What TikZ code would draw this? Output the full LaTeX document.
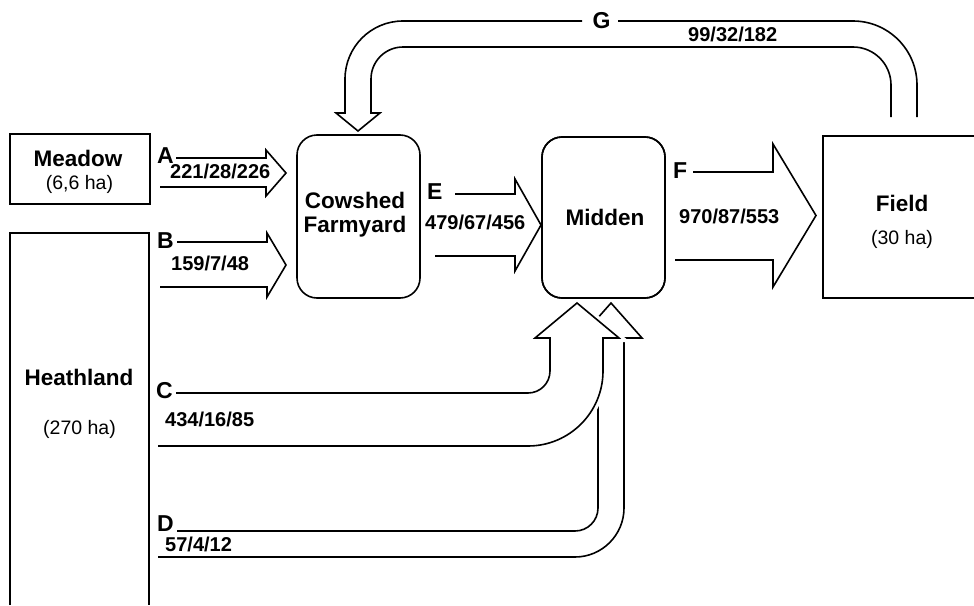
\documentclass[tikz,border=0pt]{standalone}
\usepackage{fontspec}
\setmainfont{Liberation Sans}
\begin{document}
\begin{tikzpicture}[x=1pt,y=-1pt,
  flow/.style={line width=1.6pt, line join=miter},
  halo/.style={line width=8pt, white},
  box/.style={draw, line width=1.6pt, inner sep=0pt},
  boxname/.style={font=\bfseries\fontsize{22.5}{24}\selectfont, inner sep=0pt, anchor=base},
  areatext/.style={font=\fontsize{19.5}{21}\selectfont, inner sep=0pt, anchor=base},
  flowletter/.style={font=\bfseries\fontsize{23}{24}\selectfont, inner sep=0pt, anchor=base west},
  flowvalue/.style={font=\bfseries\fontsize{20}{22}\selectfont, inner sep=0pt, anchor=base west}]

\useasboundingbox (0,0) rectangle (974,605);
\fill[white] (0,0) rectangle (974,605);

% ---- land units and farm stores ----
\node[box, minimum width=140pt, minimum height=70pt] (meadow) at (80,169) {};
\node[box, rounded corners=20pt, minimum width=123pt, minimum height=163pt] (cow) at (358.5,216.5) {};
\node[box, rounded corners=20pt, minimum width=123pt, minimum height=161pt] (midden) at (603.5,217.5) {};
\coordinate (heathNW) at (10,233);
\coordinate (heathNE) at (149,233);
\coordinate (fieldNW) at (823,136);
\coordinate (fieldSW) at (823,298);
\draw[line width=1.6pt] (heathNW |- 0,605) -- (heathNW) -- (heathNE) -- (heathNE |- 0,605);
\draw[line width=1.6pt] (974,136) -- (fieldNW) -- (fieldSW) -- (974,298);

% ---- flows A, B into the cowshed ----
\draw[flow] (176,158) -- (266,158) -- (266,150) -- (286,173) -- (266,196) -- (266,187) -- (160,187);
\draw[flow] (177,242) -- (267,242) -- (267,233) -- (286,265) -- (267,297) -- (267,287) -- (160,287);

% ---- flow E (cowshed to midden) and F (midden to field) ----
\draw[flow] (455,194) -- (515,194) -- (515,179) -- (541,225) -- (515,271) -- (515,256) -- (435,256);
\draw[flow] (693,172) -- (773,172) -- (773,144) -- (816,215.5) -- (773,287) -- (773,260) -- (675,260);

% ---- flow G (field back to the cowshed) ----
\draw[flow] (917,117) -- (917,85) .. controls (917,49.7) and (888.3,21) .. (853,21) -- (618,21);
\draw[flow] (582,21) -- (403,21) .. controls (371,21) and (345,47) .. (345,79) -- (345,113)
  -- (336,113) -- (358,131) -- (380,113) -- (371,113) -- (371,79)
  .. controls (371,61.3) and (385.3,47) .. (403,47) -- (853,47)
  .. controls (874,47) and (891,64) .. (891,85) -- (891,117);

% ---- flow D (heathland to midden), behind C ----
\def\pathD{(177,531) -- (575,531) .. controls (587.7,531) and (598,520.7) .. (598,508) -- (598,338)
  -- (580,338) -- (611,303) -- (642,338) -- (624,338) -- (624,508)
  .. controls (624,535) and (602,557) .. (575,557) -- (158,557)}
\draw[flow, fill=white] \pathD;

% ---- flow C (heathland to midden) ----
\def\pathC{(176,393) -- (528,393) .. controls (540.2,393) and (550,383.2) .. (550,371) -- (550,338)
  -- (535,338) -- (577,303) -- (619,338) -- (603,338) -- (603,371)
  .. controls (603,412.4) and (569.4,446) .. (528,446) -- (158,446)}
\draw[halo] (550,400) -- (550,338) -- (535,338) -- (577,303) -- (619,338) -- (603,338) -- (603,371)
  .. controls (603,412.4) and (569.4,446) .. (528,446);
\draw[flow, fill=white] \pathC;

% redraw the midden outline over the arrow heads
\node[box, rounded corners=20pt, minimum width=123pt, minimum height=161pt] at (midden) {};

% ---- box texts ----
\node[boxname] (tMeadow) at (78,166) {Meadow};
\node[areatext] (aMeadow) at (79.5,189) {(6,6 ha)};
\node[boxname] (tHeath) at (79,385) {Heathland};
\node[areatext] (aHeath) at (79.5,434) {(270 ha)};
\node[boxname, anchor=north, align=center] (tCow) at (355,191.6) {Cowshed\\Farmyard};
\node[boxname] (tMidden) at (605,225) {Midden};
\node[boxname] (tField) at (902,211) {Field};
\node[areatext] (aField) at (902,244) {(30 ha)};

% ---- flow letters and values ----
\node[flowletter] (lA) at (157,163) {A};
\node[flowvalue]  (vA) at (170,178) {221/28/226};
\node[flowletter] (lB) at (157,248) {B};
\node[flowvalue]  (vB) at (171,270) {159/7/48};
\node[flowletter] (lC) at (156,398) {C};
\node[flowvalue]  (vC) at (165,426) {434/16/85};
\node[flowletter] (lD) at (157,531) {D};
\node[flowvalue]  (vD) at (165,551) {57/4/12};
\node[flowletter] (lE) at (427,199) {E};
\node[flowvalue]  (vE) at (425,229) {479/67/456};
\node[flowletter] (lF) at (673,178) {F};
\node[flowvalue]  (vF) at (679,223) {970/87/553};
\node[flowletter, anchor=base] (lG) at (601.5,28) {G};
\node[flowvalue]  (vG) at (688,41) {99/32/182};
\end{tikzpicture}
\end{document}
